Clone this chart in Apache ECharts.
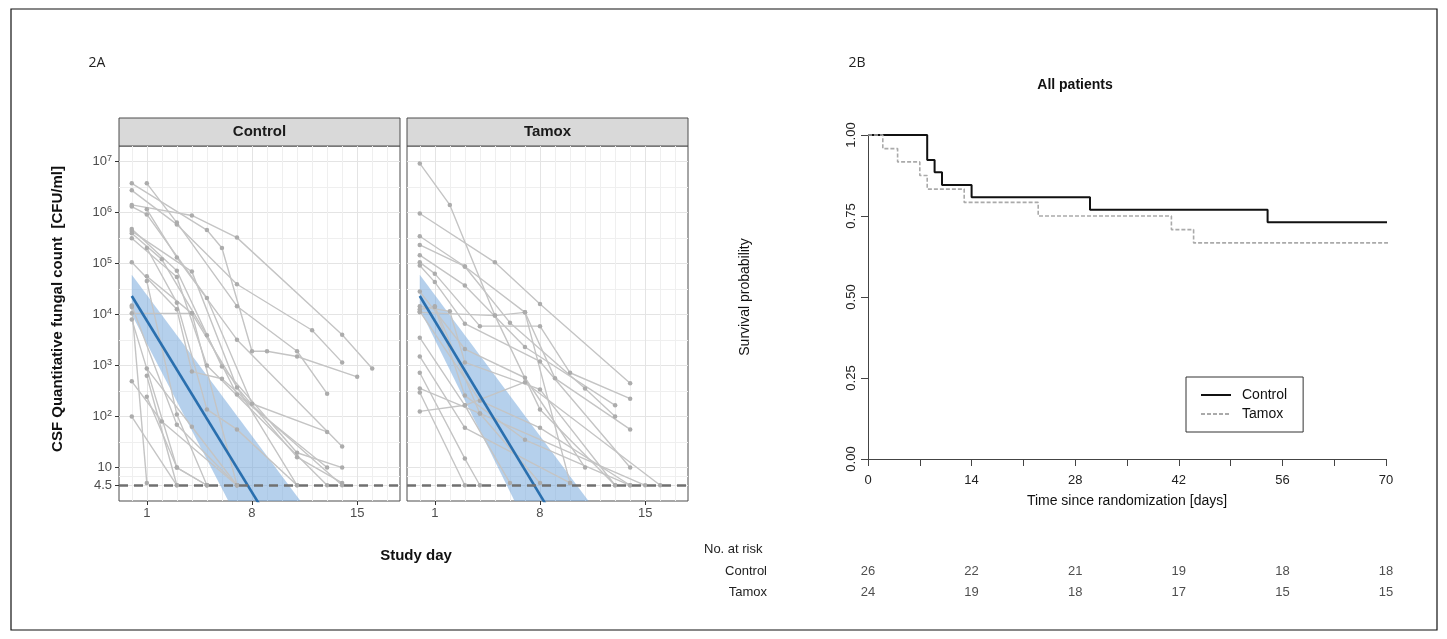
<!DOCTYPE html>
<html>
<head>
<meta charset="utf-8">
<script src="https://cdn.jsdelivr.net/npm/echarts@6/dist/echarts.min.js"></script>
<style>
  html, body { margin: 0; padding: 0; background: #fff; }
  #chart { width: 1447px; height: 639px; }
</style>
</head>
<body>
<div id="chart"></div>
<script>
// ---- panel 2A: CSF fungal counts per patient, [study day, CFU/ml] ----
const controlPatients = [
  [[0, 1.4e6], [4, 8.7e5], [7, 3.2e5], [14, 4e3], [16, 870]],
  [[0, 2.7e6], [3, 5.8e5], [7, 3.9e4], [12, 4.9e3], [14, 1.15e3]],
  [[1, 3.7e6], [3, 6.3e5], [7, 1.45e4], [11, 1.9e3], [13, 280]],
  [[0, 3.7e6], [5, 4.5e5], [6, 2e5], [8, 1.9e3], [9, 1.9e3], [11, 1.5e3], [15, 600]],
  [[0, 1.3e6], [1, 9.1e5], [5, 2.1e4], [8, 178], [13, 50]],
  [[1, 1.15e6], [3, 1.3e5], [7, 3.2e3], [14, 26]],
  [[0, 4.7e5], [3, 7.2e4], [6, 950], [11, 19.5], [14, 10]],
  [[0, 4.3e5], [4, 6.9e4], [7, 370], [11, 16], [14, 5]],
  [[0, 3.9e5], [2, 1.2e5], [5, 3.9e3], [7, 270], [13, 10]],
  [[0, 3.1e5], [3, 5.4e4], [5, 1e3], [13, 4.5]],
  [[1, 2e5], [3, 1.7e4], [5, 138], [7, 56], [11, 4.5]],
  [[0, 1.05e5], [3, 1.26e4], [4, 760], [6, 550], [14, 4.5]],
  [[1, 5.6e4], [4, 1.05e4], [7, 4.5]],
  [[1, 4.5e4], [3, 110], [5, 4.5]],
  [[0, 1.5e4], [3, 69], [7, 4.5]],
  [[0, 1.05e4], [4, 1.05e4], [11, 4.5]],
  [[0, 8e3], [3, 10], [5, 4.5]],
  [[1, 870], [4, 63], [7, 4.5]],
  [[1, 630], [3, 4.5]],
  [[0, 490], [2, 80], [7, 4.5]],
  [[1, 245], [3, 10], [5, 4.5]],
  [[0, 100], [3, 4.5]],
  [[0, 1.4e4], [1, 5]]
];

const tamoxPatients = [
  [[0, 9.1e6], [2, 1.4e6], [5, 9.5e3], [8, 138], [13, 4.5]],
  [[0, 9.5e5], [5, 1.05e5], [8, 1.6e4], [14, 450]],
  [[0, 3.4e5], [3, 8.7e4], [7, 1.1e4], [9, 560], [14, 56]],
  [[0, 2.3e5], [3, 8.7e4], [6, 6.9e3], [11, 355], [13, 100]],
  [[0, 1.45e5], [3, 3.7e4], [7, 2.3e3], [13, 166]],
  [[0, 1.05e5], [1, 6.3e4], [4, 5.9e3], [8, 5.9e3], [10, 720], [14, 224]],
  [[0, 9.1e4], [1, 4.3e4], [3, 6.6e3], [8, 1.2e3], [14, 10]],
  [[0, 2.8e4], [3, 2.1e3], [7, 575], [11, 10]],
  [[0, 1.45e4], [2, 1.15e4], [3, 1.15e3], [8, 340], [13, 4.5]],
  [[0, 1.26e4], [1, 1.4e4], [3, 257], [7, 35], [14, 4.5]],
  [[0, 1.15e4], [4, 204], [8, 60], [14, 4.5]],
  [[0, 3.5e3], [3, 166], [6, 5]],
  [[0, 1.5e3], [3, 60], [10, 5]],
  [[0, 720], [3, 15], [4, 4.5]],
  [[0, 355], [4, 115], [15, 4.5]],
  [[0, 295], [3, 4.5]],
  [[0, 126], [3, 166], [7, 470], [16, 4.5]],
  [[1, 1.45e4], [4, 115], [8, 5]],
  [[0, 1.1e4], [5, 9.5e3], [7, 1.1e4], [10, 5]]
];

// fitted decline and its band (CFU/ml at the two ends)
const fitDays = [0, 12];
const controlFit = [2.3e4, 0.039];
const tamoxFit = [2.3e4, 0.033];
const controlBandUpper = [6.0e4, 1.1];
const controlBandLower = [1.0e4, 0.0015];
const tamoxBandUpper = [6.0e4, 1.1];
const tamoxBandLower = [1.26e4, 0.0009];

const censorLevel = 4.5;
const facetNames = ['Control', 'Tamox'];
const dayTicks = [1, 8, 15];
const dayGrid = [0, 2, 3, 4, 5, 6, 7, 9, 10, 11, 12, 13, 14, 16, 17];
const countTicks = [4.5, 10, 1e2, 1e3, 1e4, 1e5, 1e6, 1e7];
const countLabels = ['4.5', '10', '10{sup|2}', '10{sup|3}', '10{sup|4}', '10{sup|5}', '10{sup|6}', '10{sup|7}'];
const countGrid = [6.7, 31.6, 316, 3162, 31623, 316228, 3162278];

// ---- panel 2B: Kaplan-Meier, all patients ----
const kmControlDays = [0, 8, 9, 10, 14, 30, 54, 71];
const kmControlSurv = [1, 0.923, 0.885, 0.846, 0.808, 0.769, 0.731, 0.731];
const kmTamoxDays = [0, 2, 4, 7, 8, 13, 23, 41, 44, 71];
const kmTamoxSurv = [1, 0.958, 0.917, 0.875, 0.833, 0.792, 0.75, 0.708, 0.667, 0.667];
const kmDayLabels = [0, 14, 28, 42, 56, 70];

const riskGroups = ['Control', 'Tamox'];
const riskDays = [0, 14, 28, 42, 56, 70];
const riskControl = [26, 22, 21, 19, 18, 18];
const riskTamox = [24, 19, 18, 17, 15, 15];

const fontR = '"Liberation Sans", Arial, sans-serif';
const log = v => Math.log10(v);
const yMin = 0.345, yMax = 7.3;
const xMin = -0.85, xMax = 17.85;

const chart = echarts.init(document.getElementById('chart'));

function facetAxes(gi, showY) {
  const x = [
    {
      gridIndex: gi, type: 'value', min: xMin, max: xMax,
      axisLine: { show: false, onZero: false },
      axisTick: { show: true, length: 4, lineStyle: { color: '#333' }, customValues: dayTicks },
      axisLabel: { customValues: dayTicks, margin: 6, fontSize: 13, color: '#4d4d4d', fontFamily: fontR },
      splitLine: { show: true, lineStyle: { color: '#e4e4e4', width: 1 } }
    },
    {
      gridIndex: gi, type: 'value', min: xMin, max: xMax, position: 'top',
      axisLine: { show: false, onZero: false },
      axisTick: { show: false, customValues: dayGrid },
      axisLabel: { show: false },
      splitLine: { show: true, lineStyle: { color: '#efefef', width: 1 } }
    }
  ];
  const y = [
    {
      gridIndex: gi, type: 'value', min: yMin, max: yMax,
      axisLine: { show: false, onZero: false },
      axisTick: { show: showY, length: 4, lineStyle: { color: '#333' }, customValues: countTicks.map(log) },
      axisLabel: {
        show: showY,
        hideOverlap: false,
        customValues: countTicks.map(log),
        margin: 7, fontSize: 13, color: '#4d4d4d', fontFamily: fontR, lineHeight: 15,
        formatter: v => {
          const i = countTicks.findIndex(t => Math.abs(log(t) - v) < 1e-6);
          return i >= 0 ? countLabels[i] : '';
        },
        rich: { sup: { fontSize: 9, lineHeight: 8, verticalAlign: 'top', color: '#4d4d4d', fontFamily: fontR } }
      },
      splitLine: { show: true, lineStyle: { color: '#e4e4e4', width: 1 } }
    },
    {
      gridIndex: gi, type: 'value', min: yMin, max: yMax, position: 'right',
      axisLine: { show: false, onZero: false },
      axisTick: { show: false, customValues: countGrid.map(log) },
      axisLabel: { show: false },
      splitLine: { show: true, lineStyle: { color: '#efefef', width: 1 } }
    }
  ];
  return { x, y };
}

function bandSeries(xi, yi, upper, lower) {
  return {
    type: 'custom', xAxisIndex: xi, yAxisIndex: yi, clip: true, silent: true, z: 1,
    data: [[0, 1]],
    renderItem: (params, api) => {
      const pts = [];
      fitDays.forEach((d, i) => pts.push(api.coord([d, log(upper[i])])));
      for (let i = fitDays.length - 1; i >= 0; i--) pts.push(api.coord([fitDays[i], log(lower[i])]));
      return { type: 'polygon', shape: { points: pts }, style: { fill: 'rgba(120,170,220,0.55)' } };
    }
  };
}

function censorSeries(xi, yi) {
  return {
    type: 'line', xAxisIndex: xi, yAxisIndex: yi, data: [], silent: true, z: 2,
    markLine: {
      silent: true, symbol: 'none', label: { show: false },
      lineStyle: { color: '#707070', width: 2.5, type: [9, 6] },
      data: [{ yAxis: log(censorLevel) }]
    }
  };
}

function patientSeries(list, xi, yi) {
  return list.map(p => ({
    type: 'line', xAxisIndex: xi, yAxisIndex: yi, silent: true, z: 3,
    data: p.map(([d, c]) => [d, log(c)]),
    symbol: 'circle', symbolSize: 4.5, showSymbol: true,
    lineStyle: { color: '#c4c4c4', width: 1.4 },
    itemStyle: { color: '#acacac' }
  }));
}

function fitSeries(xi, yi, vals) {
  return {
    type: 'line', xAxisIndex: xi, yAxisIndex: yi, silent: true, z: 4,
    data: fitDays.map((d, i) => [d, log(vals[i])]),
    symbol: 'none', lineStyle: { color: '#2a6fae', width: 2.6 }
  };
}

const ctrlAx = facetAxes(0, true);
const tamAx = facetAxes(1, false);

const xAxes = [
  ...ctrlAx.x, ...tamAx.x,
  {
    gridIndex: 2, type: 'value', min: 0, max: 70, interval: 7,
    axisLine: { show: true, onZero: false, lineStyle: { color: '#444' } },
    axisTick: { length: 7, lineStyle: { color: '#444' } },
    axisLabel: { margin: 15, fontSize: 13, color: '#222', fontFamily: fontR,
      formatter: v => kmDayLabels.includes(v) ? String(v) : '' },
    splitLine: { show: false }
  },
  { gridIndex: 3, type: 'value', min: 0, max: 70, show: false }
];

const yAxes = [
  ...ctrlAx.y, ...tamAx.y,
  {
    gridIndex: 2, type: 'value', min: 0, max: 1, interval: 0.25,
    axisLine: { show: true, onZero: false, lineStyle: { color: '#444' } },
    axisTick: { show: true, length: 7, lineStyle: { color: '#444' } },
    axisLabel: { rotate: 90, margin: 10, fontSize: 13, color: '#222', fontFamily: fontR,
      formatter: v => v.toFixed(2) },
    splitLine: { show: false }
  },
  {
    gridIndex: 3, type: 'category', data: riskGroups, inverse: true,
    axisLine: { show: false }, axisTick: { show: false },
    axisLabel: { margin: 101, fontSize: 13, color: '#222', fontFamily: fontR }
  }
];

const series = [
  bandSeries(0, 0, controlBandUpper, controlBandLower),
  bandSeries(2, 2, tamoxBandUpper, tamoxBandLower),
  censorSeries(0, 0),
  censorSeries(2, 2),
  ...patientSeries(controlPatients, 0, 0),
  ...patientSeries(tamoxPatients, 2, 2),
  fitSeries(0, 0, controlFit),
  fitSeries(2, 2, tamoxFit),
  {
    name: 'Control', type: 'line', xAxisIndex: 4, yAxisIndex: 4, step: 'end', clip: false,
    data: kmControlDays.map((d, i) => [d, kmControlSurv[i]]),
    symbol: 'none', lineStyle: { color: '#111', width: 2 }, itemStyle: { color: '#111' }, z: 3
  },
  {
    name: 'Tamox', type: 'line', xAxisIndex: 4, yAxisIndex: 4, step: 'end', clip: false,
    data: kmTamoxDays.map((d, i) => [d, kmTamoxSurv[i]]),
    symbol: 'none', lineStyle: { color: '#aaaaaa', width: 1.6, type: [4, 2] }, itemStyle: { color: '#aaaaaa' }, z: 4
  },
  {
    name: 'risk', type: 'scatter', xAxisIndex: 5, yAxisIndex: 5, silent: true,
    symbolSize: 1, itemStyle: { color: 'rgba(0,0,0,0)' },
    data: [
      ...riskDays.map((d, i) => [d, riskGroups[0], riskControl[i]]),
      ...riskDays.map((d, i) => [d, riskGroups[1], riskTamox[i]])
    ],
    encode: { x: 0, y: 1 },
    label: { show: true, position: 'inside', formatter: p => String(p.value[2]),
      fontSize: 13, color: '#222', fontFamily: fontR }
  }
];

const strip = (x, name) => ([
  { type: 'rect', shape: { x: x, y: 118, width: 281, height: 28 },
    style: { fill: '#d9d9d9', stroke: '#4d4d4d', lineWidth: 1 } },
  { type: 'text', x: x + 140.5, y: 132,
    style: { text: name, align: 'center', verticalAlign: 'middle',
      fontSize: 15, fontWeight: 'bold', fontFamily: fontR, fill: '#1a1a1a' } }
]);

const option = {
  animation: false,
  textStyle: { fontFamily: fontR },
  grid: [
    { left: 119, top: 146, width: 281, height: 355, show: true, borderColor: '#4d4d4d', borderWidth: 1,
      backgroundColor: '#fff', outerBoundsMode: 'none' },
    { left: 407, top: 146, width: 281, height: 355, show: true, borderColor: '#4d4d4d', borderWidth: 1,
      backgroundColor: '#fff', outerBoundsMode: 'none' },
    { left: 868, top: 135, width: 518, height: 324, outerBoundsMode: 'none' },
    { left: 868, top: 561, width: 518, height: 42, outerBoundsMode: 'none' }
  ],
  xAxis: xAxes,
  yAxis: yAxes,
  legend: {
    data: ['Control', 'Tamox'], orient: 'vertical', left: 1186, top: 377,
    padding: [11, 16, 11, 14], itemWidth: 30, itemHeight: 14, itemGap: 5,
    borderColor: '#333', borderWidth: 1, borderRadius: 0, backgroundColor: '#fff',
    selectedMode: false,
    itemStyle: { opacity: 0 },
    textStyle: { fontSize: 14, color: '#111', fontFamily: fontR, padding: [0, 0, 0, 6] }
  },
  graphic: [
    { type: 'rect', shape: { x: 11, y: 9, width: 1426, height: 621 },
      style: { fill: 'none', stroke: '#111', lineWidth: 1.2 }, z: -1 },
    { type: 'text', x: 97, y: 63, style: { text: '2A', align: 'center', verticalAlign: 'middle',
      fontSize: 14, fontFamily: '"Open Sans", sans-serif', fill: '#222' } },
    { type: 'text', x: 857, y: 63, style: { text: '2B', align: 'center', verticalAlign: 'middle',
      fontSize: 14, fontFamily: '"Open Sans", sans-serif', fill: '#222' } },
    ...strip(119, facetNames[0]),
    ...strip(407, facetNames[1]),
    { type: 'text', x: 58, y: 309, rotation: Math.PI / 2,
      style: { text: 'CSF Quantitative fungal count  [CFU/ml]', align: 'center', verticalAlign: 'middle',
        fontSize: 15, fontWeight: 'bold', fontFamily: fontR, fill: '#111' } },
    { type: 'text', x: 416, y: 556,
      style: { text: 'Study day', align: 'center', verticalAlign: 'middle',
        fontSize: 15, fontWeight: 'bold', fontFamily: fontR, fill: '#111' } },
    { type: 'text', x: 1075, y: 85,
      style: { text: 'All patients', align: 'center', verticalAlign: 'middle',
        fontSize: 14, fontWeight: 'bold', fontFamily: fontR, fill: '#111' } },
    { type: 'text', x: 745, y: 297, rotation: Math.PI / 2,
      style: { text: 'Survival probability', align: 'center', verticalAlign: 'middle',
        fontSize: 14, fontFamily: fontR, fill: '#111' } },
    { type: 'text', x: 1127, y: 501,
      style: { text: 'Time since randomization [days]', align: 'center', verticalAlign: 'middle',
        fontSize: 14, fontFamily: fontR, fill: '#111' } },
    { type: 'text', x: 704, y: 549,
      style: { text: 'No. at risk', align: 'left', verticalAlign: 'middle',
        fontSize: 13, fontFamily: fontR, fill: '#222' } }
  ],
  series: series
};

chart.setOption(option);
</script>
</body>
</html>
